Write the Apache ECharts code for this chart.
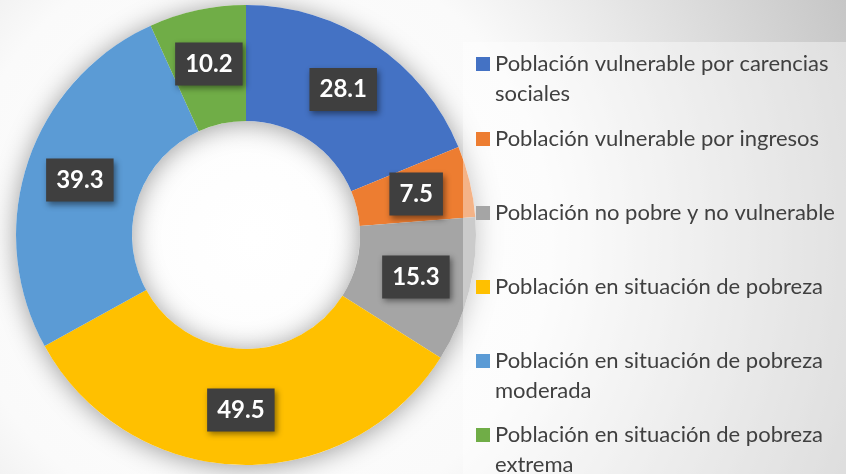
<!DOCTYPE html>
<html>
<head>
<meta charset="utf-8">
<script src="https://cdn.jsdelivr.net/npm/echarts@6/dist/echarts.min.js"></script>
<style>html,body{margin:0;padding:0;}#c{width:846px;height:474px;}</style>
</head>
<body>
<div id="c"></div>
<script>
const categories = [
  'Población vulnerable por carencias sociales',
  'Población vulnerable por ingresos',
  'Población no pobre y no vulnerable',
  'Población en situación de pobreza',
  'Población en situación de pobreza moderada',
  'Población en situación de pobreza extrema'
];
const values = [28.1, 7.5, 15.3, 49.5, 39.3, 10.2];
const legendLines = [
  ['Población vulnerable por carencias', 'sociales'],
  ['Población vulnerable por ingresos'],
  ['Población no pobre y no vulnerable'],
  ['Población en situación de pobreza'],
  ['Población en situación de pobreza', 'moderada'],
  ['Población en situación de pobreza', 'extrema']
];
const colors = ['#4472C4', '#ED7D31', '#A5A5A5', '#FFC000', '#5B9BD5', '#70AD47'];
const legendCenters = [64, 139, 213, 287, 361, 435];

const FONT = 'Lato';
const LH = 30;
const total = values.reduce((a, b) => a + b, 0);

const legends = categories.map((name, i) => {
  const lines = legendLines[i];
  const two = lines.length > 1;
  return {
    orient: 'vertical',
    left: 476,
    top: legendCenters[i] - (two ? 45 : 15),
    padding: 0,
    itemWidth: 14,
    itemHeight: 14,
    icon: 'rect',
    data: [name],
    formatter: () => (two ? ' \n' : '') + lines.join('\n'),
    textStyle: {
      fontFamily: FONT,
      fontSize: 22,
      color: '#404040',
      lineHeight: LH
    }
  };
});

const chart = echarts.init(document.getElementById('c'), null, {renderer: 'canvas'});
chart.setOption({
  animation: false,
  backgroundColor: {
    type: 'radial', x: 0.3, y: 0.5, r: 1.4,
    colorStops: [
      {offset: 0, color: '#ffffff'},
      {offset: 0.45, color: '#fafafa'},
      {offset: 1, color: '#c2c2c2'}
    ]
  },
  color: colors,
  legend: legends,
  graphic: [{
    type: 'rect', z: 3, silent: true,
    shape: {x: 463, y: 42, width: 383, height: 432},
    style: {fill: 'rgba(255,255,255,0.42)'}
  }],
  series: [
    {
      type: 'pie', silent: true, z: 1,
      center: [246, 235], radius: [114, 230],
      label: {show: false}, labelLine: {show: false},
      itemStyle: {color: '#ffffff', shadowBlur: 26, shadowColor: 'rgba(0,0,0,0.38)', shadowOffsetY: 2},
      data: [{value: total, name: '_ring'}]
    },
    {
      type: 'pie', z: 2,
      center: [246, 235], radius: [114, 230],
      startAngle: 90, clockwise: true,
      avoidLabelOverlap: false,
      itemStyle: {borderWidth: 0},
      label: {
        show: true, position: 'inside',
        formatter: (p) => p.value.toFixed(1),
        fontFamily: FONT, fontWeight: 'bold', fontSize: 24, color: '#ffffff',
        lineHeight: 24,
        backgroundColor: '#3f3f3f',
        padding: [10, 10, 9, 10],
        shadowBlur: 6, shadowColor: 'rgba(0,0,0,0.45)', shadowOffsetX: 2, shadowOffsetY: 3
      },
      labelLine: {show: false},
      emphasis: {disabled: true},
      data: categories.map((n, i) => ({name: n, value: values[i]}))
    }
  ]
});
</script>
</body>
</html>
